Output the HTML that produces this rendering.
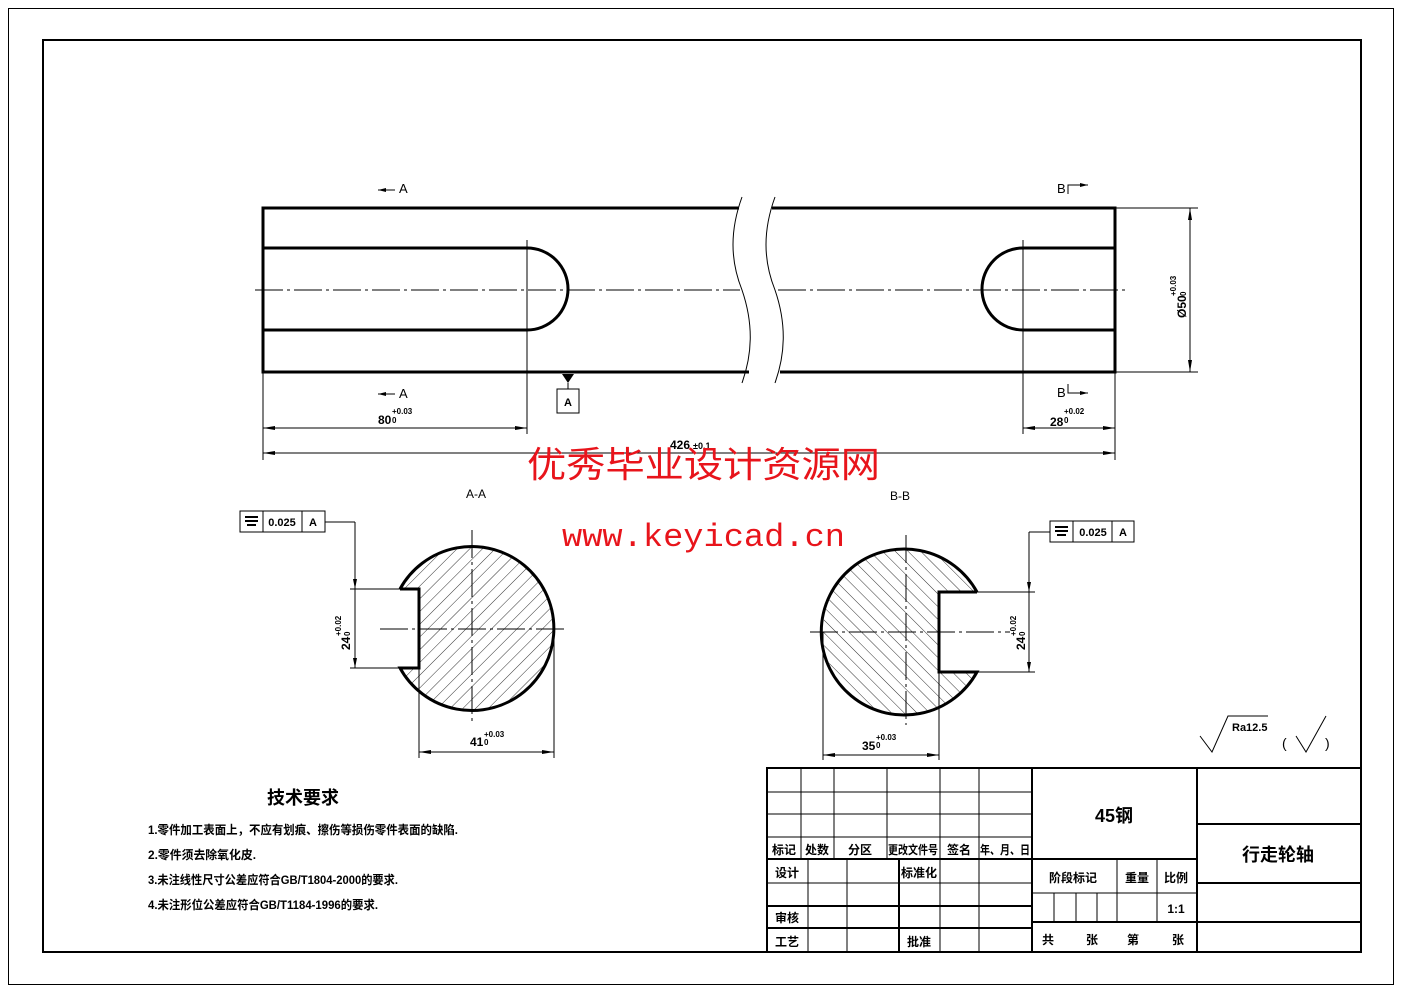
<!DOCTYPE html>
<html><head><meta charset="utf-8"><style>
html,body{margin:0;padding:0;background:#fff;}
svg{display:block;}
text{font-family:"Liberation Sans","Noto Sans CJK SC",sans-serif;fill:#000;}
</style></head><body>
<svg width="1403" height="992" viewBox="0 0 1403 992" xmlns="http://www.w3.org/2000/svg">
<defs>
<pattern id="hA" width="9" height="9" patternUnits="userSpaceOnUse" patternTransform="rotate(45)"><line x1="0" y1="0" x2="0" y2="9" stroke="#000" stroke-width="0.8"/></pattern>
<pattern id="hB" width="9" height="9" patternUnits="userSpaceOnUse" patternTransform="rotate(-45)"><line x1="0" y1="0" x2="0" y2="9" stroke="#000" stroke-width="0.8"/></pattern>
<clipPath id="cA"><circle cx="472" cy="629" r="82"/></clipPath>
<clipPath id="cB"><circle cx="906" cy="632" r="83"/></clipPath>
</defs>
<rect x="0" y="0" width="1403" height="992" fill="#fff"/>
<rect x="8.5" y="8.5" width="1385" height="976" fill="none" stroke="#000" stroke-width="1"/>
<rect x="43" y="40" width="1318" height="912" fill="none" stroke="#000" stroke-width="2"/>

<!-- shaft -->
<g stroke="#000" fill="none">
<path d="M739 208 H263 V372 H749" stroke-width="3"/>
<path d="M772 208 H1115 V372 H780" stroke-width="3"/>
<path d="M263 248 H527 A41 41 0 0 1 527 330 H263" stroke-width="3"/>
<path d="M1115 248 H1023 A41 41 0 0 0 1023 330 H1115" stroke-width="3"/>
<path d="M742 197 C730 230,730 260,742 290 C754 325,752 355,742 383" stroke-width="1"/>
<path d="M775 197 C763 230,763 260,775 290 C787 325,785 355,775 383" stroke-width="1"/>
<line x1="255" y1="290" x2="740" y2="290" stroke-width="1" stroke-dasharray="28,4,3,4"/>
<line x1="778" y1="290" x2="1125" y2="290" stroke-width="1" stroke-dasharray="28,4,3,4"/>
<line x1="263" y1="372" x2="263" y2="460" stroke-width="1"/>
<line x1="527" y1="240" x2="527" y2="434" stroke-width="1"/>
<line x1="1023" y1="240" x2="1023" y2="434" stroke-width="1"/>
<line x1="1115" y1="372" x2="1115" y2="460" stroke-width="1"/>
<line x1="263" y1="428" x2="527" y2="428" stroke-width="1"/>
<line x1="1023" y1="428" x2="1115" y2="428" stroke-width="1"/>
<line x1="263" y1="453" x2="1115" y2="453" stroke-width="1"/>
<line x1="1115" y1="208" x2="1198" y2="208" stroke-width="1"/>
<line x1="1115" y1="372" x2="1198" y2="372" stroke-width="1"/>
<line x1="1190" y1="208" x2="1190" y2="372" stroke-width="1"/>
</g>
<g fill="#000">
<path d="M263 428 l12 -2 v4z M527 428 l-12 -2 v4z M1023 428 l12 -2 v4z M1115 428 l-12 -2 v4z M263 453 l12 -2 v4z M1115 453 l-12 -2 v4z M1190 208 l-2 12 h4z M1190 372 l-2 -12 h4z"/>
<path d="M562 374 h12 l-6 9z"/>
</g>
<rect x="557" y="389" width="22" height="24" fill="none" stroke="#000"/>
<text x="568" y="406" font-size="11" text-anchor="middle" font-weight="bold">A</text>
<line x1="568" y1="383" x2="568" y2="389" stroke="#000"/>
<g stroke="#000" fill="none"><line x1="378" y1="190" x2="395" y2="190"/><line x1="378" y1="394" x2="395" y2="394"/>
<path d="M1068 194 V185 H1088"/><path d="M1068 384 V393 H1088"/></g>
<g fill="#000"><path d="M378 190 l8 -2 v4z M378 394 l8 -2 v4z M1088 185 l-8 -2 v4z M1088 393 l-8 -2 v4z"/></g>
<text x="399" y="193" font-size="13">A</text>
<text x="399" y="398" font-size="13">A</text>
<text x="1057" y="193" font-size="13">B</text>
<text x="1057" y="397" font-size="13">B</text>
<text x="378" y="424" font-size="12" font-weight="bold">80</text><text x="392" y="414" font-size="8" font-weight="bold">+0.03</text><text x="392" y="423" font-size="8" font-weight="bold">0</text>
<text x="1050" y="426" font-size="12" font-weight="bold">28</text><text x="1064" y="414" font-size="8" font-weight="bold">+0.02</text><text x="1064" y="423" font-size="8" font-weight="bold">0</text>
<text x="670" y="449" font-size="12" font-weight="bold">426</text><text x="693" y="449" font-size="9" font-weight="bold">±0.1</text>
<text transform="translate(1186,318) rotate(-90)" font-size="12" font-weight="bold">Ø50</text>
<text transform="translate(1176,296) rotate(-90)" font-size="8" font-weight="bold">+0.03</text>
<text transform="translate(1186,296) rotate(-90)" font-size="8" font-weight="bold">0</text>

<!-- watermark -->
<text x="527" y="477" font-size="36" textLength="353" lengthAdjust="spacingAndGlyphs" style="fill:#e8141b;font-family:'Noto Sans CJK SC',sans-serif">优秀毕业设计资源网</text>
<text x="562" y="546" font-size="32" textLength="283" lengthAdjust="spacingAndGlyphs" style="fill:#e8141b;font-family:'Liberation Mono',monospace">www.keyicad.cn</text>

<!-- A-A -->
<text x="476" y="498" font-size="12" text-anchor="middle">A-A</text>
<rect x="390" y="540" width="170" height="180" fill="url(#hA)" clip-path="url(#cA)"/>
<rect x="350" y="589" width="69" height="79" fill="#fff"/>
<g stroke="#000" fill="none">
<path d="M400 589 H419 V668 H400 A82 82 0 1 0 400 589" stroke-width="3"/>
<line x1="380" y1="629" x2="568" y2="629" stroke-dasharray="28,4,3,4"/>
<line x1="472" y1="530" x2="472" y2="725" stroke-dasharray="28,4,3,4"/>
<line x1="350" y1="589" x2="400" y2="589"/><line x1="350" y1="668" x2="400" y2="668"/>
<line x1="355" y1="522" x2="355" y2="668"/><line x1="325" y1="522" x2="355" y2="522"/>
<line x1="419" y1="668" x2="419" y2="758"/><line x1="554" y1="629" x2="554" y2="758"/>
<line x1="419" y1="752" x2="554" y2="752"/>
<rect x="240" y="511" width="85" height="21"/><line x1="263" y1="511" x2="263" y2="532"/><line x1="302" y1="511" x2="302" y2="532"/>
</g>
<g fill="#000"><path d="M419 752 l12 -2 v4z M554 752 l-12 -2 v4z M355 589 l-2 -10 h4z M355 668 l-2 -10 h4z"/>
<rect x="245" y="516" width="13" height="2"/><rect x="245" y="520" width="13" height="2"/><rect x="247" y="524" width="9" height="2"/></g>
<text x="282" y="526" font-size="11" text-anchor="middle" font-weight="bold">0.025</text>
<text x="313" y="526" font-size="11" text-anchor="middle" font-weight="bold">A</text>
<text transform="translate(350,650) rotate(-90)" font-size="12" font-weight="bold">24</text>
<text transform="translate(341,636) rotate(-90)" font-size="8" font-weight="bold">+0.02</text>
<text transform="translate(350,636) rotate(-90)" font-size="8" font-weight="bold">0</text>
<text x="470" y="746" font-size="12" font-weight="bold">41</text><text x="484" y="737" font-size="8" font-weight="bold">+0.03</text><text x="484" y="745" font-size="8" font-weight="bold">0</text>

<!-- B-B -->
<text x="900" y="500" font-size="12" text-anchor="middle">B-B</text>
<rect x="820" y="545" width="175" height="175" fill="url(#hB)" clip-path="url(#cB)"/>
<rect x="939" y="592" width="80" height="80" fill="#fff"/>
<g stroke="#000" fill="none">
<path d="M977 592 H939 V672 H977 A83 83 0 1 1 977 592" stroke-width="3"/>
<line x1="810" y1="632" x2="1010" y2="632" stroke-dasharray="28,4,3,4"/>
<line x1="906" y1="535" x2="906" y2="725" stroke-dasharray="28,4,3,4"/>
<line x1="977" y1="592" x2="1035" y2="592"/><line x1="977" y1="672" x2="1035" y2="672"/>
<line x1="1029" y1="532" x2="1029" y2="672"/><line x1="1029" y1="532" x2="1050" y2="532"/>
<line x1="823" y1="632" x2="823" y2="760"/><line x1="939" y1="672" x2="939" y2="760"/>
<line x1="823" y1="755" x2="939" y2="755"/>
<rect x="1050" y="521" width="84" height="21"/><line x1="1073" y1="521" x2="1073" y2="542"/><line x1="1112" y1="521" x2="1112" y2="542"/>
</g>
<g fill="#000"><path d="M823 755 l12 -2 v4z M939 755 l-12 -2 v4z M1029 592 l-2 -10 h4z M1029 672 l-2 -10 h4z"/>
<rect x="1055" y="526" width="13" height="2"/><rect x="1055" y="530" width="13" height="2"/><rect x="1057" y="534" width="9" height="2"/></g>
<text x="1093" y="536" font-size="11" text-anchor="middle" font-weight="bold">0.025</text>
<text x="1123" y="536" font-size="11" text-anchor="middle" font-weight="bold">A</text>
<text transform="translate(1025,650) rotate(-90)" font-size="12" font-weight="bold">24</text>
<text transform="translate(1016,636) rotate(-90)" font-size="8" font-weight="bold">+0.02</text>
<text transform="translate(1025,636) rotate(-90)" font-size="8" font-weight="bold">0</text>
<text x="862" y="750" font-size="12" font-weight="bold">35</text><text x="876" y="740" font-size="8" font-weight="bold">+0.03</text><text x="876" y="748" font-size="8" font-weight="bold">0</text>

<!-- roughness -->
<g stroke="#000" fill="none"><path d="M1200 736 L1212 752 L1228 716 H1268"/><path d="M1296 736 L1306 752 L1326 716"/></g>
<text x="1232" y="731" font-size="11" font-weight="bold">Ra12.5</text>
<text x="1282" y="748" font-size="14">(</text><text x="1325" y="748" font-size="14">)</text>

<!-- tech req -->
<text x="303" y="804" font-size="18" text-anchor="middle" font-weight="bold">技术要求</text>
<g font-size="12" font-weight="bold">
<text x="148" y="834" textLength="310" lengthAdjust="spacingAndGlyphs">1.零件加工表面上，不应有划痕、擦伤等损伤零件表面的缺陷.</text>
<text x="148" y="859" textLength="108" lengthAdjust="spacingAndGlyphs">2.零件须去除氧化皮.</text>
<text x="148" y="884" textLength="250" lengthAdjust="spacingAndGlyphs">3.未注线性尺寸公差应符合GB/T1804-2000的要求.</text>
<text x="148" y="909" textLength="230" lengthAdjust="spacingAndGlyphs">4.未注形位公差应符合GB/T1184-1996的要求.</text>
</g>

<!-- title block -->
<g stroke="#000" fill="none" stroke-width="1">
<rect x="767" y="768" width="594" height="184" stroke-width="2"/>
<line x1="767" y1="792" x2="1032" y2="792"/><line x1="767" y1="814" x2="1032" y2="814"/>
<line x1="767" y1="837" x2="1032" y2="837"/>
<line x1="767" y1="859" x2="1032" y2="859" stroke-width="2"/>
<line x1="767" y1="883" x2="1032" y2="883"/><line x1="767" y1="906" x2="1032" y2="906" stroke-width="2"/>
<line x1="767" y1="928" x2="1032" y2="928" stroke-width="2"/>
<line x1="801" y1="768" x2="801" y2="859"/><line x1="834" y1="768" x2="834" y2="859"/>
<line x1="887" y1="768" x2="887" y2="859"/><line x1="940" y1="768" x2="940" y2="859"/><line x1="979" y1="768" x2="979" y2="859"/>
<line x1="808" y1="859" x2="808" y2="952"/><line x1="847" y1="859" x2="847" y2="952"/>
<line x1="899" y1="859" x2="899" y2="952" stroke-width="2"/><line x1="940" y1="859" x2="940" y2="952"/><line x1="979" y1="859" x2="979" y2="952"/>
<line x1="1032" y1="768" x2="1032" y2="952" stroke-width="2"/>
<line x1="1197" y1="768" x2="1197" y2="952" stroke-width="2"/>
<line x1="1032" y1="859" x2="1197" y2="859" stroke-width="2"/>
<line x1="1117" y1="859" x2="1117" y2="922"/><line x1="1157" y1="859" x2="1157" y2="922"/>
<line x1="1032" y1="893" x2="1197" y2="893"/><line x1="1032" y1="922" x2="1197" y2="922" stroke-width="2"/>
<line x1="1054" y1="893" x2="1054" y2="922"/><line x1="1076" y1="893" x2="1076" y2="922"/><line x1="1097" y1="893" x2="1097" y2="922"/>
<line x1="1197" y1="824" x2="1361" y2="824" stroke-width="2"/><line x1="1197" y1="883" x2="1361" y2="883" stroke-width="2"/>
<line x1="1197" y1="922" x2="1361" y2="922" stroke-width="2"/>
</g>
<g font-size="12" font-weight="bold" text-anchor="middle">
<text x="784" y="854">标记</text><text x="817" y="854">处数</text><text x="860" y="854">分区</text><text x="913" y="854" textLength="50" lengthAdjust="spacingAndGlyphs">更改文件号</text><text x="959" y="854">签名</text><text x="1005" y="854" textLength="50" lengthAdjust="spacingAndGlyphs">年、月、日</text>
<text x="787" y="877">设计</text><text x="919" y="877">标准化</text><text x="787" y="922">审核</text><text x="787" y="946">工艺</text><text x="919" y="946">批准</text>
<text x="1073" y="882">阶段标记</text><text x="1137" y="882">重量</text><text x="1176" y="882">比例</text><text x="1176" y="913">1:1</text>
<text x="1048" y="944">共</text><text x="1092" y="944">张</text><text x="1133" y="944">第</text><text x="1178" y="944">张</text>
</g>
<text x="1114" y="822" font-size="18" font-weight="bold" text-anchor="middle">45钢</text>
<text x="1278" y="861" font-size="18" font-weight="bold" text-anchor="middle">行走轮轴</text>
</svg>
</body></html>
